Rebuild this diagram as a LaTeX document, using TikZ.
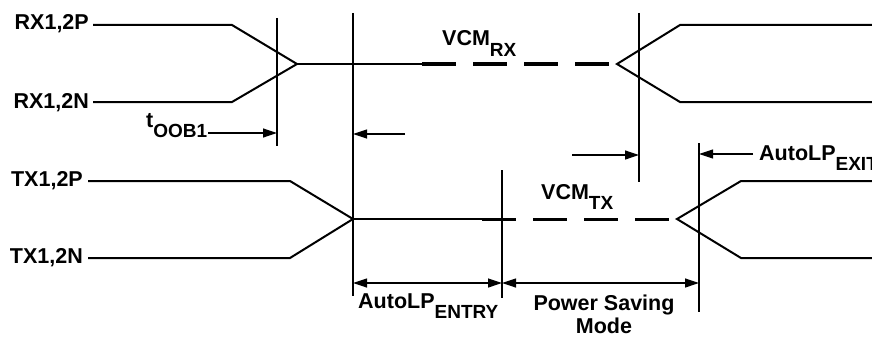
\documentclass[tikz,border=0pt]{standalone}
\usepackage{fontspec}
\setmainfont{Liberation Sans}
\usetikzlibrary{arrows.meta}
\newcommand\mysub[1]{\raisebox{-10pt}{\fontsize{19}{19}\selectfont #1}}
\tikzset{
  sig/.style={line width=2pt, line join=miter},
  dsh/.style={line width=3pt, dash pattern=on 34pt off 17pt},
  vline/.style={line width=1.1pt},
  dim/.style={line width=1.2pt, -{Triangle[length=14pt,width=9pt]}},
  ddim/.style={line width=1.2pt, {Triangle[length=14pt,width=9pt]}-{Triangle[length=14pt,width=9pt]}},
  lab/.style={inner sep=0pt, font=\fontsize{21.5}{23}\selectfont\bfseries},
}
\begin{document}
\begin{tikzpicture}[x=1pt,y=-1pt]
\useasboundingbox (0,0) rectangle (872,337);
% labels
\node[lab, anchor=base east] (rxp) at (89,30) {RX1,2P};
\node[lab, anchor=base east] (rxn) at (89,108) {RX1,2N};
\node[lab, anchor=base east] (txp) at (83,186) {TX1,2P};
\node[lab, anchor=base east] (txn) at (83,263) {TX1,2N};
\node[lab, anchor=base west] (toob) at (146,127) {t\mysub{OOB1}};
\node[lab, anchor=base west] (vcmrx) at (442,46) {VCM\mysub{RX}};
\node[lab, anchor=base west] (vcmtx) at (541,199) {VCM\mysub{TX}};
\node[lab, anchor=base west] (entry) at (358,308) {AutoLP\mysub{ENTRY}};
\node[lab, anchor=base west] (exit) at (759,160) {AutoLP\mysub{EXIT}};
\node[lab, anchor=base, align=center] (psm) at (604,333) {Power Saving\\Mode};
% RX waveform coordinates
\coordinate (rpA) at (93,25);  \coordinate (rpB) at (232,25);
\coordinate (rnA) at (93,102); \coordinate (rnB) at (232,102);
\coordinate (rxL) at (297,64); \coordinate (rxS) at (422,64);
\coordinate (rxE) at (610,64); \coordinate (rxR) at (617,64);
\coordinate (rpC) at (680,25); \coordinate (rpD) at (872,25);
\coordinate (rnC) at (680,102); \coordinate (rnD) at (872,102);
\draw[sig] (rpA) -- (rpB) -- (rxL) -- (rnB) -- (rnA);
\draw[sig] (rxL) -- (rxS);
\draw[dsh] (rxS) -- (rxE);
\draw[sig] (rpD) -- (rpC) -- (rxR) -- (rnC) -- (rnD);
% TX waveform coordinates
\coordinate (tpA) at (88,181);  \coordinate (tpB) at (290,181);
\coordinate (tnA) at (88,258);  \coordinate (tnB) at (290,258);
\coordinate (txL) at (353,219); \coordinate (txS) at (482,219);
\coordinate (txE) at (670,219); \coordinate (txR) at (677,219);
\coordinate (tpC) at (741,181); \coordinate (tpD) at (872,181);
\coordinate (tnC) at (741,258); \coordinate (tnD) at (872,258);
\draw[sig] (tpA) -- (tpB) -- (txL) -- (tnB) -- (tnA);
\draw[sig] (txL) -- (txS);
\draw[dsh] (txS) -- (txE);
\draw[sig] (tpD) -- (tpC) -- (txR) -- (tnC) -- (tnD);
% vertical markers
\coordinate (v1t) at (277,18);  \coordinate (v1b) at (277,146);
\coordinate (v2t) at (353,13);  \coordinate (v2b) at (353,296);
\coordinate (v3t) at (639,13);  \coordinate (v3b) at (639,182);
\coordinate (v4t) at (699,143); \coordinate (v4b) at (699,312);
\coordinate (v5t) at (502,170); \coordinate (v5b) at (502,298);
\draw[vline] (v1t) -- (v1b);
\draw[vline] (v2t) -- (v2b);
\draw[vline] (v3t) -- (v3b);
\draw[vline] (v4t) -- (v4b);
\draw[vline] (v5t) -- (v5b);
% arrows
\coordinate (a1s) at (208,133); \coordinate (a1e) at (277,133);
\draw[dim] (a1s) -- (a1e);
\coordinate (a2s) at (405,134); \coordinate (a2e) at (353,134);
\draw[dim] (a2s) -- (a2e);
\coordinate (a3s) at (572,155); \coordinate (a3e) at (639,155);
\draw[dim] (a3s) -- (a3e);
\coordinate (a4s) at (753,154); \coordinate (a4e) at (699,154);
\draw[dim] (a4s) -- (a4e);
\coordinate (d1) at (353,283); \coordinate (d2) at (502,283); \coordinate (d3) at (699,283);
\draw[ddim] (d1) -- (d2);
\draw[ddim] (d2) -- (d3);
\end{tikzpicture}
\end{document}
